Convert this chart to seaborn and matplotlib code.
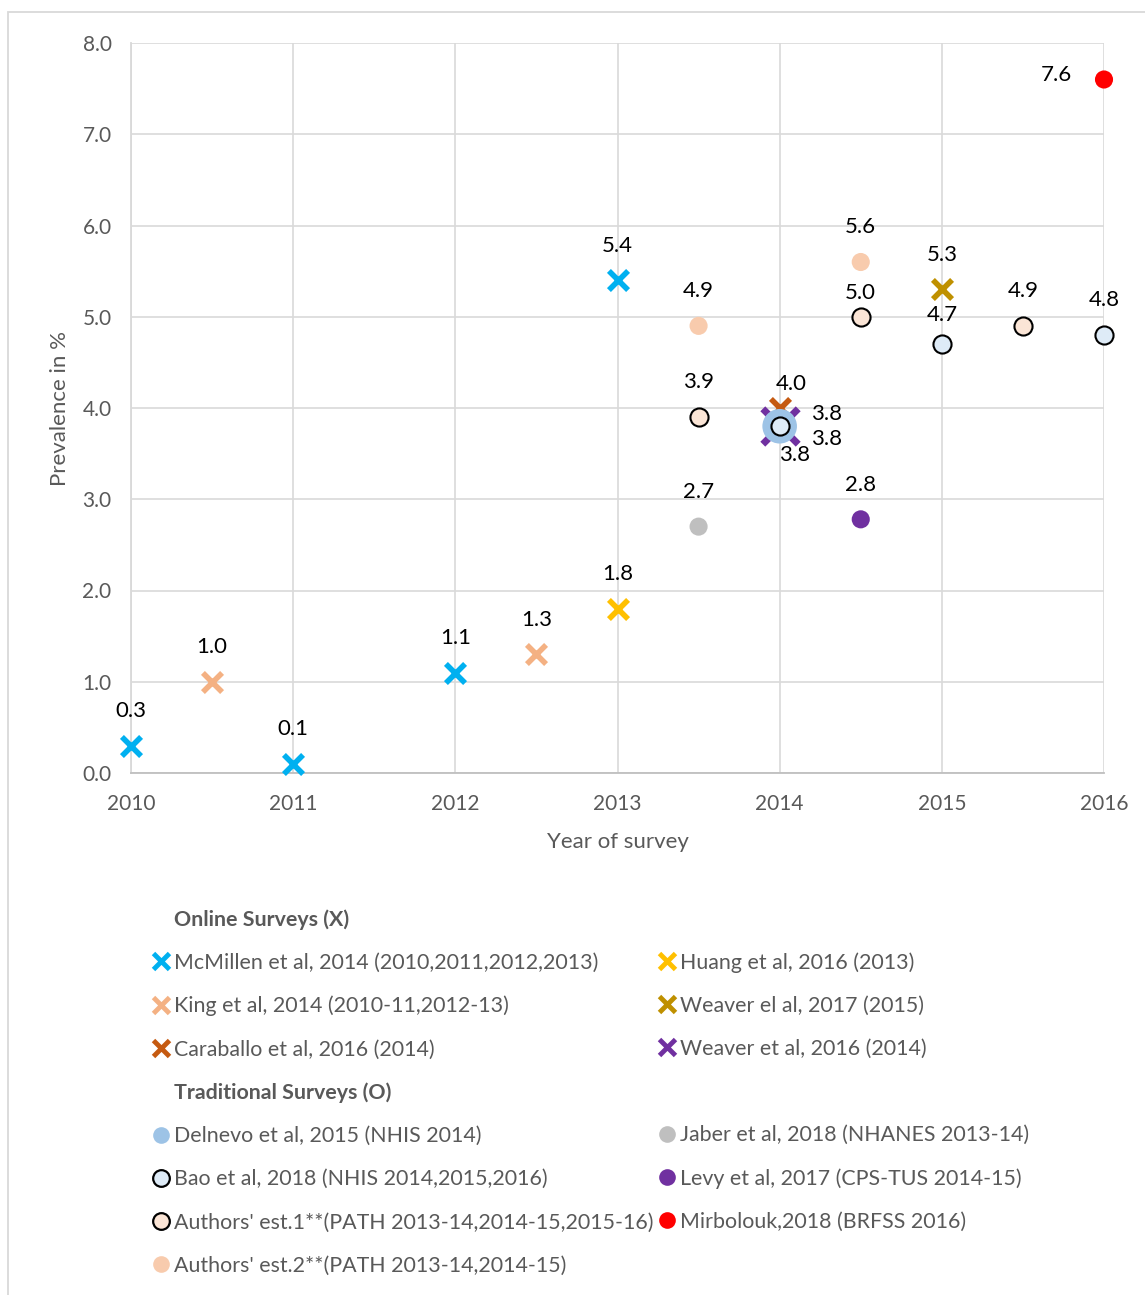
import matplotlib
matplotlib.use("Agg")
from matplotlib import pyplot as plt
from matplotlib.lines import Line2D
from matplotlib.patches import Rectangle
import seaborn as sns
import pandas as pd

# ------------------ data ------------------
mcmillen_x = [2010, 2011, 2012, 2013]
mcmillen_y = [0.3, 0.1, 1.1, 5.4]
king_x = [2010.5, 2012.5]
king_y = [1.0, 1.3]
caraballo_x = [2014]
caraballo_y = [4.0]
huang_x = [2013]
huang_y = [1.8]
weaver17_x = [2015]
weaver17_y = [5.3]
weaver16_x = [2014]
weaver16_y = [3.8]
delnevo_x = [2014]
delnevo_y = [3.8]
bao_x = [2014, 2015, 2016]
bao_y = [3.8, 4.7, 4.8]
est1_x = [2013.5, 2014.5, 2015.5]
est1_y = [3.9, 5.0, 4.9]
est2_x = [2013.5, 2014.5]
est2_y = [4.9, 5.6]
jaber_x = [2013.5]
jaber_y = [2.7]
levy_x = [2014.5]
levy_y = [2.78]
mirbolouk_x = [2016]
mirbolouk_y = [7.6]

year_ticks = [2010, 2011, 2012, 2013, 2014, 2015, 2016]
prev_ticks = [0, 1, 2, 3, 4, 5, 6, 7, 8]

sns.set_style("white")
plt.rcParams['font.family'] = ['Lato', 'DejaVu Sans']
TXT = "#595959"

fig = plt.figure(figsize=(11.45, 12.95), dpi=100)
ax = fig.add_axes([131 / 1145, 1 - 773 / 1295, (1104 - 131) / 1145, (773 - 43) / 1295])

# crosses (online surveys)
def cross(x, y, color, s=190, lw=4):
    d = pd.DataFrame({"x": x, "y": y})
    sns.scatterplot(data=d, x="x", y="y", marker="x", s=s, color=color,
                    linewidth=lw, ax=ax, zorder=3)

def dot(x, y, color, s=170, edge="none", lw=1.5, z=3):
    d = pd.DataFrame({"x": x, "y": y})
    sns.scatterplot(data=d, x="x", y="y", marker="o", s=s, color=color,
                    edgecolor=edge, linewidth=lw, ax=ax, zorder=z)

cross(mcmillen_x, mcmillen_y, "#00B0F0")
cross(king_x, king_y, "#F4B183")
cross(huang_x, huang_y, "#FFC000")
cross(weaver17_x, weaver17_y, "#BF9000")
cross(weaver16_x, weaver16_y, "#7030A0", s=650, lw=5)
cross(caraballo_x, caraballo_y, "#C55A11")
dot(delnevo_x, delnevo_y, "#9DC3E6", s=620, z=4)
dot(bao_x, bao_y, "#DEEBF7", edge="black", z=5)
dot(est1_x, est1_y, "#FBE5D6", edge="black")
dot(est2_x, est2_y, "#F8CBAD")
dot(jaber_x, jaber_y, "#BFBFBF")
dot(levy_x, levy_y, "#7030A0")
dot(mirbolouk_x, mirbolouk_y, "#FF0000")

# data labels
def lab(x, y, dx=0, dy=25):
    ax.annotate(f"{y:.1f}", (x, y), xytext=(dx, dy), textcoords="offset points",
                ha="center", va="center", fontsize=16, color="black", zorder=6)

for xs, ys in [(mcmillen_x, mcmillen_y), (king_x, king_y), (huang_x, huang_y),
               (weaver17_x, weaver17_y), (jaber_x, jaber_y), (levy_x, levy_y)]:
    for x, y in zip(xs, ys):
        lab(x, y)
lab(est2_x[0], est2_y[0]); lab(est2_x[1], est2_y[1])
lab(est1_x[0], est1_y[0]); lab(est1_x[1], est1_y[1], dy=17); lab(est1_x[2], est1_y[2])
lab(bao_x[1], bao_y[1], dy=21); lab(bao_x[2], bao_y[2])
lab(bao_x[0], bao_y[0], dx=34, dy=9)
lab(delnevo_x[0], delnevo_y[0], dx=34, dy=-9)
lab(weaver16_x[0], weaver16_y[0], dx=11, dy=-21)
lab(caraballo_x[0], caraballo_y[0], dx=8, dy=17)
lab(mirbolouk_x[0], mirbolouk_y[0], dx=-34, dy=3)

ax.set_xlim(2010, 2016)
ax.set_ylim(0, 8)
ax.set_xticks(year_ticks)
ax.set_yticks(prev_ticks)
ax.set_xticklabels([str(t) for t in year_ticks])
ax.set_yticklabels([f"{t:.1f}" for t in prev_ticks])
ax.grid(True, color="#D9D9D9", linewidth=1.2)
ax.set_axisbelow(True)
for s in ["top", "right"]:
    ax.spines[s].set_visible(False)
ax.spines["bottom"].set_color("#BFBFBF")
ax.spines["bottom"].set_linewidth(1.3)
ax.spines["left"].set_color("#D9D9D9")
ax.spines["left"].set_linewidth(1.3)
ax.tick_params(axis="both", length=0, labelsize=15, colors=TXT)
ax.tick_params(axis="x", pad=15)
ax.tick_params(axis="y", pad=14)
ax.set_xlabel("Year of survey", fontsize=16, color=TXT, labelpad=13)
ax.set_ylabel("Prevalence in %", fontsize=16, color=TXT, labelpad=9)
for coll in ax.collections:
    coll.set_clip_on(False)

# legend
def xh(c, lw=3.5):
    return Line2D([], [], linestyle="none", marker="x", color=c, markersize=11, markeredgewidth=lw)

def oh(c, edge=None):
    return Line2D([], [], linestyle="none", marker="o", color=c, markersize=12,
                  markeredgecolor=edge if edge else c, markeredgewidth=1.6 if edge else 0)

blank = Line2D([], [], linestyle="none")
left_h = [blank, xh("#00B0F0"), xh("#F4B183"), xh("#C55A11"), blank,
          oh("#9DC3E6"), oh("#DEEBF7", "black"), oh("#FBE5D6", "black"), oh("#F8CBAD")]
left_l = ["Online Surveys (X)", "McMillen et al, 2014 (2010,2011,2012,2013)",
          "King et al, 2014 (2010-11,2012-13)", "Caraballo et al, 2016 (2014)",
          "Traditional Surveys (O)", "Delnevo et al, 2015 (NHIS 2014)",
          "Bao et al, 2018 (NHIS 2014,2015,2016)",
          "Authors' est.1**(PATH 2013-14,2014-15,2015-16)",
          "Authors' est.2**(PATH 2013-14,2014-15)"]
right_h = [blank, xh("#FFC000"), xh("#BF9000"), xh("#7030A0"), blank,
           oh("#BFBFBF"), oh("#7030A0"), oh("#FF0000")]
right_l = [" ", "Huang et al, 2016 (2013)", "Weaver el al, 2017 (2015)",
           "Weaver et al, 2016 (2014)", " ", "Jaber et al, 2018 (NHANES 2013-14)",
           "Levy et al, 2017 (CPS-TUS 2014-15)", "Mirbolouk,2018 (BRFSS 2016)"]

common = dict(frameon=False, fontsize=15.4, labelcolor=TXT, handlelength=0.8,
              handletextpad=0.25, labelspacing=1.08, borderpad=0, borderaxespad=0,
              loc="upper left")
leg1 = fig.legend(left_h, left_l, bbox_to_anchor=(152 / 1145, 1 - 909 / 1295), **common)
leg2 = fig.legend(right_h, right_l, bbox_to_anchor=(658 / 1145, 1 - 909 / 1295), **common)
for t in leg1.get_texts():
    if "Surveys" in t.get_text():
        t.set_fontweight("bold")

# outer border
fig.patches.append(Rectangle((8 / 1145, -0.01), 1.0, 1 - 12 / 1295 + 0.01,
                             transform=fig.transFigure, fill=False,
                             edgecolor="#D9D9D9", linewidth=1.3))

fig.savefig("out.png", dpi=100)
